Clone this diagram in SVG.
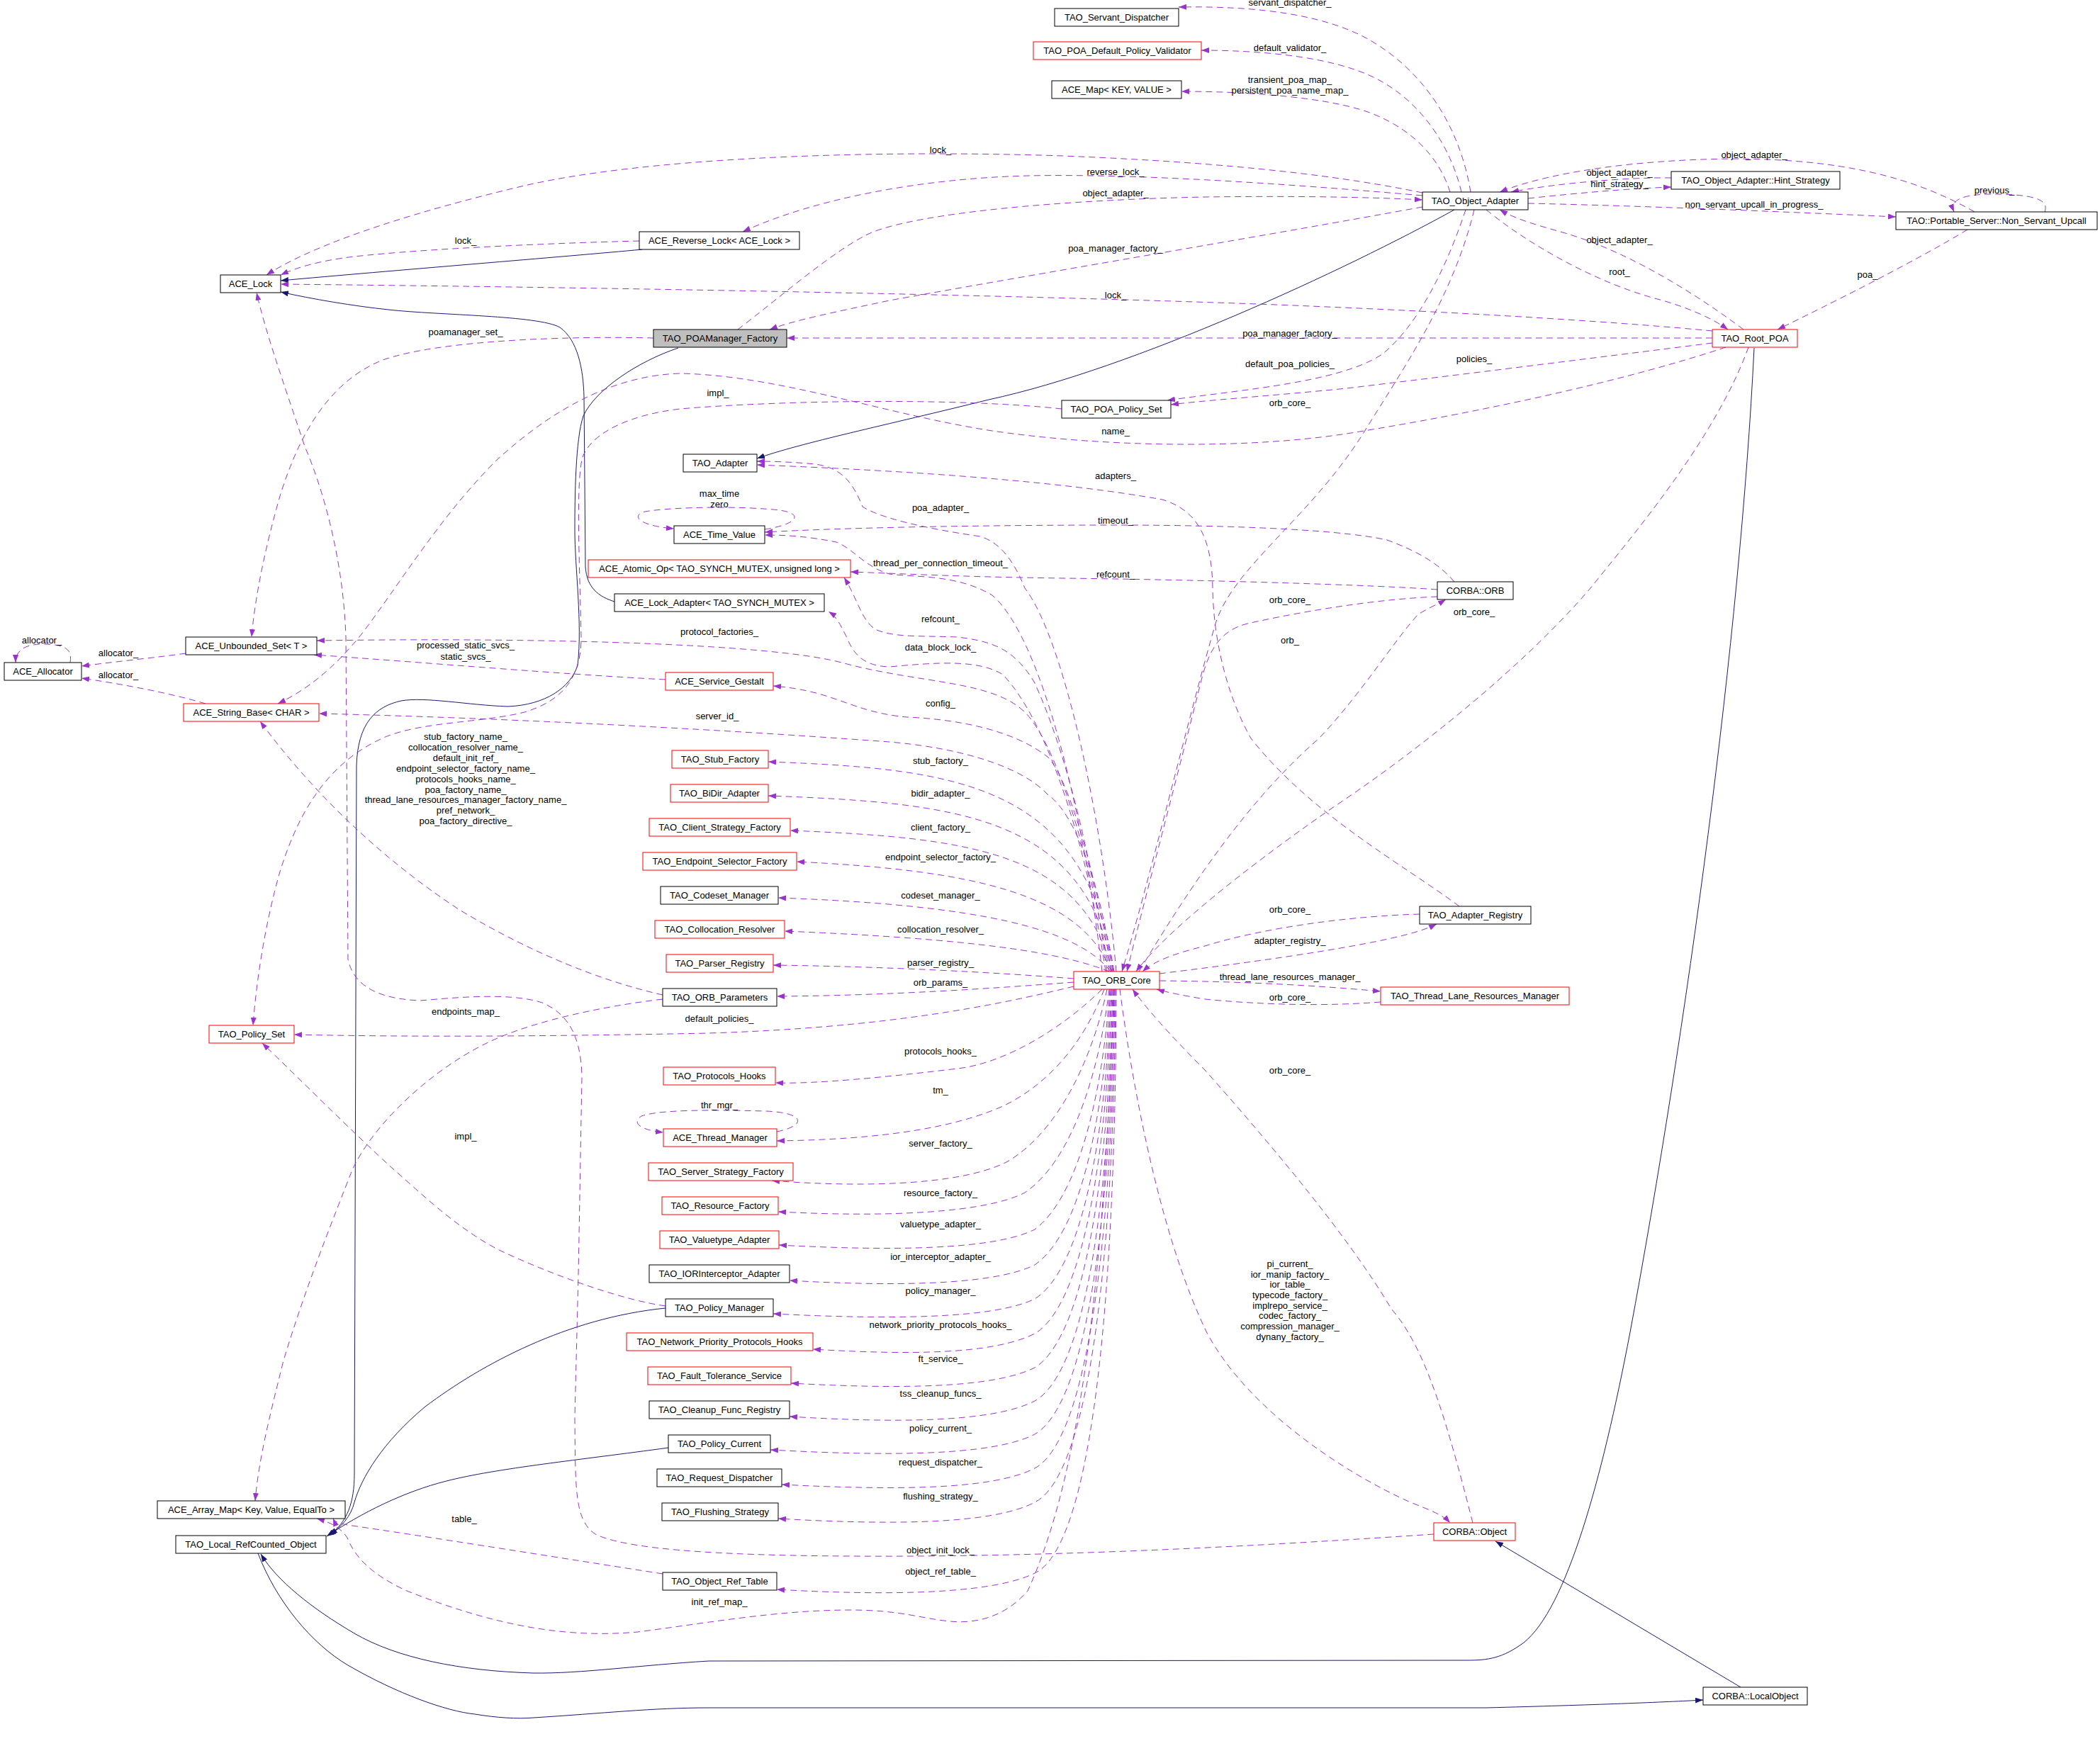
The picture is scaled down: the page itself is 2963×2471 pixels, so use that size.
<svg xmlns="http://www.w3.org/2000/svg" width="2963" height="2471" viewBox="0 0 2963 2471">
<style>
.n rect{fill:#fff;stroke:#000;stroke-width:1}
.n.r rect{stroke:#ff0000}
.n.m rect{fill:#bfbfbf}
text{font-family:"Liberation Sans",Arial,sans-serif;font-size:13px;fill:#000;text-anchor:middle}
.u{fill:none;stroke:#9a32cd;stroke-width:1;stroke-dasharray:9,6;marker-end:url(#ap)}
.i{fill:none;stroke:#191970;stroke-width:1;marker-end:url(#ab)}
</style>
<defs>
<marker id="ap" viewBox="0 0 11 8" refX="11" refY="4" markerWidth="11" markerHeight="8" markerUnits="userSpaceOnUse" orient="auto"><path d="M0,0L11,4L0,8z" fill="#9a32cd"/></marker>
<marker id="ab" viewBox="0 0 11 8" refX="11" refY="4" markerWidth="11" markerHeight="8" markerUnits="userSpaceOnUse" orient="auto"><path d="M0,0L11,4L0,8z" fill="#191970"/></marker>
</defs>
<rect x="0" y="0" width="2963" height="2471" fill="#fff"/>
<g id="connectors">
<path class="i" d="M906,352 C800,362 550,382 396,396"/>
<path class="i" d="M867,849 C845,842 828,830 826,800 L824,560 C823,520 815,480 790,462 C760,445 620,445 548,437 C500,432 440,422 396,412"/>
<path class="i" d="M957,491 C900,510 840,550 823,587 C812,620 811,700 811,748 C811,800 822,880 815,939 C805,970 770,995 716,997 C660,995 600,983 566,989 C530,997 505,1020 503,1080 L500,2080 C500,2120 490,2148 465,2166"/>
<path class="i" d="M939,1846 C800,1860 680,1925 600,1985 C540,2035 510,2085 500,2120 C495,2140 482,2155 463,2167"/>
<path class="i" d="M943,2043 C820,2060 700,2072 630,2090 C570,2105 510,2135 461,2168"/>
<path class="i" d="M2052,296 C1900,380 1600,520 1395,564 C1250,600 1130,625 1068,647"/>
<path class="i" d="M2475,491 C2455,900 2380,1450 2300,1880 C2260,2090 2210,2270 2150,2318 C2120,2340 2100,2343 2070,2343 L1000,2344 C900,2350 820,2362 752,2361 C650,2358 560,2340 500,2305 C440,2270 390,2230 368,2193"/>
<path class="i" d="M364,2192 C390,2260 440,2320 491,2350 C560,2390 630,2415 670,2419 C700,2424 730,2426 753,2424 C850,2418 920,2410 1000,2410 L2097,2410 C2250,2406 2350,2402 2403,2399"/>
<path class="i" d="M2456,2381 L2110,2175"/>

<path class="u" d="M902,340 C780,343 600,351 500,362 C450,368 420,377 396,388"/>
<path class="u" d="M2075,271 C2060,180 2010,100 1930,55 C1870,22 1780,8 1663,10"/>
<path class="u" d="M2062,271 C2045,200 2000,140 1940,110 C1880,80 1780,71 1695,71"/>
<path class="u" d="M2046,271 C2030,220 1990,180 1930,158 C1870,137 1760,129 1667,129"/>
<path class="u" d="M2007,272 C1900,250 1750,230 1500,220 C1200,210 900,225 740,262 C600,295 450,340 376,388"/>
<path class="u" d="M2007,276 C1800,258 1600,245 1450,248 C1300,252 1150,280 1048,327"/>
<path class="u" d="M1041,465 C1100,420 1180,350 1230,328 C1300,300 1500,282 1700,278 C1850,276 1950,279 2007,282"/>
<path class="u" d="M2007,292 C1800,330 1500,380 1255,424 C1180,440 1120,452 1086,465"/>
<path class="u" d="M2358,251 C2300,250 2200,258 2132,271"/>
<path class="u" d="M2156,280 C2230,272 2300,266 2358,264"/>
<path class="u" d="M2786,299 C2700,250 2600,225 2450,224 C2300,225 2180,245 2116,271"/>
<path class="u" d="M2156,287 C2300,290 2500,298 2675,306"/>
<path class="u" d="M2885,299 C2890,285 2880,274 2811,274 C2770,274 2750,282 2757,299"/>
<path class="u" d="M2776,324 C2700,370 2580,430 2508,465"/>
<path class="u" d="M2460,465 C2400,420 2300,355 2205,328 C2170,318 2140,310 2116,296"/>
<path class="u" d="M2097,296 C2150,340 2250,400 2346,424 C2390,437 2420,452 2438,465"/>
<path class="u" d="M2416,467 C2300,456 2100,442 1800,430 C1400,415 800,405 396,401"/>
<path class="u" d="M2416,477 L1110,477"/>
<path class="u" d="M2416,484 C2250,505 2050,530 1900,548 C1800,558 1700,565 1652,571"/>
<path class="u" d="M2068,296 C2040,380 2000,460 1950,500 C1890,540 1750,550 1647,565"/>
<path class="u" d="M2080,296 C2050,420 1980,520 1925,609 C1850,730 1740,800 1715,880 C1680,1000 1620,1250 1583,1371"/>
<path class="u" d="M2435,490 C2300,535 2100,580 1900,612 C1750,635 1550,630 1400,608 C1250,585 1100,530 960,527 C850,530 760,595 700,650 C620,730 560,830 510,895 C470,945 430,975 392,993"/>
<path class="u" d="M1498,577 C1350,561 1100,565 960,577 C890,585 835,610 822,645 C812,680 818,800 820,900 C820,960 790,990 740,1005 C680,1020 600,1018 546,1039 C460,1075 420,1150 395,1230 C375,1300 362,1380 357,1447"/>
<path class="u" d="M922,477 C800,474 620,480 540,508 C460,540 420,620 395,700 C375,770 360,840 355,899"/>
<path class="u" d="M2023,2165 C1800,2180 1500,2198 1200,2196 C1000,2195 880,2185 840,2165 C810,2145 812,2100 811,2000 L816,1800 L821,1520 C820,1460 800,1430 765,1415 C720,1400 640,1408 593,1412 C540,1410 500,1395 491,1354 L488,900 C485,800 460,700 430,630 C400,540 375,470 362,413"/>
<path class="u" d="M935,1410 C850,1420 760,1440 702,1465 C620,1500 530,1580 497,1651 C470,1720 430,1820 400,1920 C380,2000 365,2060 360,2118"/>
<path class="u" d="M939,1843 C880,1835 780,1800 702,1763 C640,1730 590,1680 555,1650 C500,1600 420,1520 370,1472"/>
<path class="u" d="M935,1404 C850,1385 750,1345 650,1285 C550,1220 450,1130 367,1018"/>
<path class="u" d="M262,922 C220,928 160,934 115,940"/>
<path class="u" d="M290,993 C240,978 170,965 115,957"/>
<path class="u" d="M99,935 C102,918 95,909 60,909 C35,909 22,918 22,935"/>
<path class="u" d="M939,959 C800,952 600,935 443,924"/>
<path class="u" d="M1565,1371 C1545,1250 1500,1060 1446,1005 C1400,960 1300,965 1191,936 C1100,910 800,899 447,904"/>
<path class="u" d="M1568,1371 C1550,1250 1510,1100 1478,1068 C1430,1030 1350,1015 1280,1012 C1200,1005 1180,975 1091,968"/>
<path class="u" d="M1570,1371 C1555,1260 1520,1150 1478,1121 C1440,1080 1350,1055 1255,1047 C1000,1028 700,1013 450,1007"/>
<path class="u" d="M1562,1371 C1540,1200 1500,1050 1459,962 C1430,915 1400,905 1351,899 C1300,897 1260,900 1235,888 C1215,875 1210,845 1191,815"/>
<path class="u" d="M1560,1371 C1535,1200 1480,1020 1415,952 C1380,930 1320,935 1255,941 C1220,940 1205,925 1195,900 C1185,880 1180,870 1169,863"/>
<path class="u" d="M2028,832 C1950,826 1700,818 1500,816 C1350,814 1260,809 1200,807"/>
<path class="u" d="M2052,821 C2030,795 2000,778 1957,762 C1880,745 1700,741 1574,741 C1400,741 1200,744 1079,751"/>
<path class="u" d="M1555,1371 C1530,1150 1470,900 1400,840 C1350,810 1290,815 1255,810 C1220,800 1205,775 1180,765 C1140,757 1110,755 1079,755"/>
<path class="u" d="M1079,747 C1125,740 1135,725 1100,720 C1050,714 950,715 910,722 C890,727 900,742 951,746"/>
<path class="u" d="M1575,1371 C1555,1150 1500,900 1446,830 C1430,790 1410,765 1383,757 C1300,745 1240,730 1217,715 C1205,685 1190,660 1150,655 C1120,652 1090,651 1068,651"/>
<path class="u" d="M2059,1279 C1980,1220 1850,1150 1765,1042 C1730,980 1712,900 1711,830 C1710,760 1690,720 1640,705 C1500,680 1300,665 1068,656"/>
<path class="u" d="M2028,842 C1950,845 1850,860 1760,880 C1720,890 1705,920 1695,960 C1660,1100 1620,1250 1590,1371"/>
<path class="u" d="M1607,1371 C1680,1250 1760,1130 1861,1042 C1920,980 1970,900 2001,867 C2015,858 2030,852 2040,846"/>
<path class="u" d="M2467,490 C2420,620 2300,760 2244,830 C2150,940 2000,1060 1880,1140 C1750,1230 1640,1320 1603,1371"/>
<path class="u" d="M2003,1290 C1900,1293 1780,1310 1700,1335 C1660,1345 1630,1355 1612,1371"/>
<path class="u" d="M1636,1374 C1750,1360 1900,1340 1980,1320 C2000,1315 2015,1310 2027,1304"/>
<path class="u" d="M1636,1384 C1750,1385 1850,1390 1948,1399"/>
<path class="u" d="M1948,1414 C1850,1422 1750,1415 1700,1410 C1670,1405 1645,1400 1632,1396"/>
<path class="u" d="M2078,2149 C2040,2000 2010,1900 1963,1847 C1900,1740 1780,1600 1700,1510 C1650,1460 1615,1420 1598,1396"/>
<path class="u" d="M1580,1396 C1600,1550 1640,1750 1702,1879 C1760,1990 1900,2080 1990,2120 C2015,2130 2035,2137 2046,2149"/>
<path class="u" d="M935,2221 C800,2200 600,2168 490,2152 C480,2150 472,2148 470,2143"/>
<path class="u" d="M1572,1396 C1560,1700 1540,2050 1450,2245 C1420,2280 1380,2292 1340,2288 C1300,2284 1270,2272 1200,2272 C1100,2272 1000,2290 900,2303 C800,2312 700,2295 574,2245 C520,2220 500,2195 490,2170 C480,2155 465,2148 447,2143"/>
<path class="u" d="M1575,1396 C1574,1800 1545,2180 1460,2220 C1400,2250 1250,2252 1096,2243"/>
<path class="u" d="M1096,1597 C1140,1588 1135,1570 1080,1568 C1000,1566 930,1566 905,1575 C890,1585 905,1595 936,1598"/>
<path class="u" d="M1572,1371 C1530,1105 1350,1085 1084,1075"/>
<path class="u" d="M1571,1371 C1530,1150 1350,1133 1084,1123"/>
<path class="u" d="M1569,1371 C1528,1200 1360,1182 1115,1172"/>
<path class="u" d="M1568,1371 C1525,1260 1370,1228 1124,1216"/>
<path class="u" d="M1567,1371 C1520,1310 1380,1277 1098,1267"/>
<path class="u" d="M1565,1371 C1500,1345 1380,1325 1107,1314"/>
<path class="u" d="M1515,1381 C1400,1372 1250,1364 1091,1362"/>
<path class="u" d="M1515,1386 C1400,1395 1250,1405 1096,1406"/>
<path class="u" d="M1515,1392 C1400,1420 1250,1450 1000,1458 C800,1462 600,1464 415,1460"/>
<path class="u" d="M1555,1396 C1500,1450 1420,1500 1351,1508 C1250,1520 1150,1530 1094,1528"/>
<path class="u" d="M1558,1396 C1530,1470 1480,1530 1415,1561 C1350,1590 1250,1608 1096,1610"/>
<path class="u" d="M1562,1396 C1540,1500 1490,1600 1420,1640 C1350,1675 1200,1675 1089,1666"/>
<path class="u" d="M1565,1396 C1550,1520 1510,1640 1446,1683 C1390,1712 1250,1718 1098,1710"/>
<path class="u" d="M1566,1396 C1555,1550 1520,1690 1460,1735 C1400,1765 1250,1765 1099,1757"/>
<path class="u" d="M1567,1396 C1557,1580 1525,1740 1460,1785 C1400,1815 1250,1815 1114,1807"/>
<path class="u" d="M1568,1396 C1560,1600 1528,1790 1460,1833 C1400,1862 1250,1862 1091,1854"/>
<path class="u" d="M1569,1396 C1562,1620 1530,1840 1460,1882 C1400,1912 1280,1912 1147,1904"/>
<path class="u" d="M1570,1396 C1564,1650 1532,1885 1460,1930 C1400,1960 1260,1960 1116,1952"/>
<path class="u" d="M1571,1396 C1566,1680 1534,1935 1460,1977 C1400,2008 1260,2008 1114,1999"/>
<path class="u" d="M1572,1396 C1568,1700 1536,1980 1460,2024 C1400,2055 1250,2055 1087,2046"/>
<path class="u" d="M1573,1396 C1570,1720 1538,2030 1460,2072 C1400,2103 1260,2103 1103,2095"/>
<path class="u" d="M1574,1396 C1572,1750 1540,2080 1460,2120 C1400,2152 1250,2152 1098,2143"/>
</g>
<g id="edge-labels">
<text x="1820" y="8">servant_dispatcher_</text>
<text x="1820" y="71.5">default_validator_</text>
<text x="1820" y="116.5">transient_poa_map_</text>
<text x="1820" y="131.5">persistent_poa_name_map_</text>
<text x="1327" y="215.5">lock_</text>
<text x="1574" y="246.5">reverse_lock_</text>
<text x="1574" y="276.5">object_adapter_</text>
<text x="2285" y="248">object_adapter_</text>
<text x="2285" y="263.5">hint_strategy_</text>
<text x="2475" y="222.5">object_adapter_</text>
<text x="2814" y="272.5">previous_</text>
<text x="2475" y="292.5">non_servant_upcall_in_progress_</text>
<text x="2285" y="342.5">object_adapter_</text>
<text x="2285" y="387.5">root_</text>
<text x="2635" y="391.5">poa_</text>
<text x="657" y="343.5">lock_</text>
<text x="1574" y="354.5">poa_manager_factory_</text>
<text x="1574" y="420.5">lock_</text>
<text x="657" y="472.5">poamanager_set_</text>
<text x="1820" y="474.5">poa_manager_factory_</text>
<text x="2080" y="510.5">policies_</text>
<text x="1820" y="517.5">default_poa_policies_</text>
<text x="1013" y="558.5">impl_</text>
<text x="1820" y="572.5">orb_core_</text>
<text x="1574" y="612.5">name_</text>
<text x="1574" y="675.5">adapters_</text>
<text x="1015" y="700.5">max_time</text>
<text x="1015" y="715.5">zero</text>
<text x="1327" y="720.5">poa_adapter_</text>
<text x="1574" y="738.5">timeout_</text>
<text x="1327" y="798.5">thread_per_connection_timeout_</text>
<text x="1574" y="814.5">refcount_</text>
<text x="1820" y="850.5">orb_core_</text>
<text x="2080" y="867.5">orb_core_</text>
<text x="1327" y="877.5">refcount_</text>
<text x="1015" y="895.5">protocol_factories_</text>
<text x="1820" y="907.5">orb_</text>
<text x="59" y="907.5">allocator_</text>
<text x="657" y="914.5">processed_static_svcs_</text>
<text x="1327" y="917.5">data_block_lock_</text>
<text x="167" y="925.5">allocator_</text>
<text x="657" y="930.5">static_svcs_</text>
<text x="167" y="956.5">allocator_</text>
<text x="1327" y="996.5">config_</text>
<text x="1012" y="1014.5">server_id_</text>
<text x="657" y="1043.5">stub_factory_name_</text>
<text x="657" y="1058.5">collocation_resolver_name_</text>
<text x="657" y="1073.5">default_init_ref_</text>
<text x="657" y="1088.5">endpoint_selector_factory_name_</text>
<text x="657" y="1103.5">protocols_hooks_name_</text>
<text x="657" y="1118.5">poa_factory_name_</text>
<text x="657" y="1132.5">thread_lane_resources_manager_factory_name_</text>
<text x="657" y="1147.5">pref_network_</text>
<text x="657" y="1162.5">poa_factory_directive_</text>
<text x="1327" y="1078">stub_factory_</text>
<text x="1327" y="1124">bidir_adapter_</text>
<text x="1327" y="1171.5">client_factory_</text>
<text x="1327" y="1214">endpoint_selector_factory_</text>
<text x="1327" y="1267.5">codeset_manager_</text>
<text x="1820" y="1287.5">orb_core_</text>
<text x="1327" y="1315.5">collocation_resolver_</text>
<text x="1820" y="1331.5">adapter_registry_</text>
<text x="1327" y="1362.5">parser_registry_</text>
<text x="1820" y="1382.5">thread_lane_resources_manager_</text>
<text x="1327" y="1390.5">orb_params_</text>
<text x="1820" y="1411.5">orb_core_</text>
<text x="657" y="1431.5">endpoints_map_</text>
<text x="1015" y="1441.5">default_policies_</text>
<text x="1327" y="1487.5">protocols_hooks_</text>
<text x="1820" y="1514.5">orb_core_</text>
<text x="1327" y="1542.5">tm_</text>
<text x="1015" y="1563.5">thr_mgr_</text>
<text x="657" y="1607.5">impl_</text>
<text x="1327" y="1618">server_factory_</text>
<text x="1327" y="1687.5">resource_factory_</text>
<text x="1327" y="1731.5">valuetype_adapter_</text>
<text x="1327" y="1777.5">ior_interceptor_adapter_</text>
<text x="1820" y="1787.5">pi_current_</text>
<text x="1820" y="1802.5">ior_manip_factory_</text>
<text x="1820" y="1816.5">ior_table_</text>
<text x="1820" y="1831.5">typecode_factory_</text>
<text x="1820" y="1846.5">implrepo_service_</text>
<text x="1820" y="1860.5">codec_factory_</text>
<text x="1820" y="1875.5">compression_manager_</text>
<text x="1820" y="1890.5">dynany_factory_</text>
<text x="1327" y="1826">policy_manager_</text>
<text x="1327" y="1873.5">network_priority_protocols_hooks_</text>
<text x="1327" y="1921.5">ft_service_</text>
<text x="1327" y="1971">tss_cleanup_funcs_</text>
<text x="1327" y="2019.5">policy_current_</text>
<text x="1327" y="2068">request_dispatcher_</text>
<text x="1327" y="2116">flushing_strategy_</text>
<text x="655" y="2147.5">table_</text>
<text x="1327" y="2191.5">object_init_lock_</text>
<text x="1327" y="2222">object_ref_table_</text>
<text x="1015" y="2264.5">init_ref_map_</text>
</g>
<g id="n_servant_dispatcher" class="n"><rect x="1488" y="12" width="175" height="25"/><text x="1575.5" y="29">TAO_Servant_Dispatcher</text></g>
<g id="n_default_policy_validator" class="n r"><rect x="1458" y="59" width="237" height="25"/><text x="1576.5" y="76">TAO_POA_Default_Policy_Validator</text></g>
<g id="n_ace_map" class="n"><rect x="1484" y="114" width="183" height="25"/><text x="1575.5" y="131">ACE_Map&lt; KEY, VALUE &gt;</text></g>
<g id="n_object_adapter" class="n"><rect x="2007" y="271" width="149" height="25"/><text x="2081.5" y="288">TAO_Object_Adapter</text></g>
<g id="n_hint_strategy" class="n"><rect x="2358" y="242" width="238" height="25"/><text x="2477" y="259">TAO_Object_Adapter::Hint_Strategy</text></g>
<g id="n_non_servant_upcall" class="n"><rect x="2675" y="299" width="284" height="25"/><text x="2817" y="316">TAO::Portable_Server::Non_Servant_Upcall</text></g>
<g id="n_reverse_lock" class="n"><rect x="902" y="327" width="226" height="25"/><text x="1015" y="344">ACE_Reverse_Lock&lt; ACE_Lock &gt;</text></g>
<g id="n_ace_lock" class="n"><rect x="311" y="388" width="85" height="25"/><text x="353.5" y="405">ACE_Lock</text></g>
<g id="n_poamanager_factory" class="n m"><rect x="922" y="465" width="188" height="25"/><text x="1016" y="482">TAO_POAManager_Factory</text></g>
<g id="n_root_poa" class="n r"><rect x="2416" y="465" width="120" height="25"/><text x="2476" y="482">TAO_Root_POA</text></g>
<g id="n_poa_policy_set" class="n"><rect x="1498" y="565" width="154" height="25"/><text x="1575" y="582">TAO_POA_Policy_Set</text></g>
<g id="n_adapter" class="n"><rect x="964" y="641" width="104" height="25"/><text x="1016" y="658">TAO_Adapter</text></g>
<g id="n_time_value" class="n"><rect x="951" y="742" width="128" height="25"/><text x="1015" y="759">ACE_Time_Value</text></g>
<g id="n_atomic_op" class="n r"><rect x="830" y="790" width="370" height="25"/><text x="1015" y="807">ACE_Atomic_Op&lt; TAO_SYNCH_MUTEX, unsigned long &gt;</text></g>
<g id="n_corba_orb" class="n"><rect x="2028" y="821" width="107" height="25"/><text x="2081.5" y="838">CORBA::ORB</text></g>
<g id="n_lock_adapter" class="n"><rect x="867" y="838" width="296" height="25"/><text x="1015" y="855">ACE_Lock_Adapter&lt; TAO_SYNCH_MUTEX &gt;</text></g>
<g id="n_unbounded_set" class="n"><rect x="262" y="899" width="185" height="25"/><text x="354.5" y="916">ACE_Unbounded_Set&lt; T &gt;</text></g>
<g id="n_allocator" class="n"><rect x="6" y="935" width="109" height="25"/><text x="60.5" y="952">ACE_Allocator</text></g>
<g id="n_service_gestalt" class="n r"><rect x="939" y="949" width="152" height="25"/><text x="1015" y="966">ACE_Service_Gestalt</text></g>
<g id="n_string_base" class="n r"><rect x="259" y="993" width="191" height="25"/><text x="354.5" y="1010">ACE_String_Base&lt; CHAR &gt;</text></g>
<g id="n_stub_factory" class="n r"><rect x="948" y="1059" width="136" height="25"/><text x="1016" y="1076">TAO_Stub_Factory</text></g>
<g id="n_bidir_adapter" class="n r"><rect x="946" y="1107" width="138" height="25"/><text x="1015" y="1124">TAO_BiDir_Adapter</text></g>
<g id="n_client_strategy_factory" class="n r"><rect x="916" y="1155" width="199" height="25"/><text x="1015.5" y="1172">TAO_Client_Strategy_Factory</text></g>
<g id="n_endpoint_selector_factory" class="n r"><rect x="907" y="1203" width="217" height="25"/><text x="1015.5" y="1220">TAO_Endpoint_Selector_Factory</text></g>
<g id="n_codeset_manager" class="n"><rect x="932" y="1251" width="166" height="25"/><text x="1015" y="1268">TAO_Codeset_Manager</text></g>
<g id="n_collocation_resolver" class="n r"><rect x="924" y="1299" width="183" height="25"/><text x="1015.5" y="1316">TAO_Collocation_Resolver</text></g>
<g id="n_parser_registry" class="n r"><rect x="940" y="1347" width="151" height="25"/><text x="1015.5" y="1364">TAO_Parser_Registry</text></g>
<g id="n_orb_parameters" class="n"><rect x="935" y="1395" width="161" height="25"/><text x="1015.5" y="1412">TAO_ORB_Parameters</text></g>
<g id="n_orb_core" class="n r"><rect x="1515" y="1371" width="121" height="25"/><text x="1575.5" y="1388">TAO_ORB_Core</text></g>
<g id="n_adapter_registry" class="n"><rect x="2003" y="1279" width="157" height="25"/><text x="2081.5" y="1296">TAO_Adapter_Registry</text></g>
<g id="n_thread_lane_resources_manager" class="n r"><rect x="1948" y="1393" width="266" height="25"/><text x="2081" y="1410">TAO_Thread_Lane_Resources_Manager</text></g>
<g id="n_policy_set" class="n r"><rect x="295" y="1447" width="120" height="25"/><text x="355" y="1464">TAO_Policy_Set</text></g>
<g id="n_protocols_hooks" class="n r"><rect x="936" y="1506" width="158" height="25"/><text x="1015" y="1523">TAO_Protocols_Hooks</text></g>
<g id="n_thread_manager" class="n r"><rect x="936" y="1593" width="160" height="25"/><text x="1016" y="1610">ACE_Thread_Manager</text></g>
<g id="n_server_strategy_factory" class="n r"><rect x="915" y="1641" width="204" height="25"/><text x="1017" y="1658">TAO_Server_Strategy_Factory</text></g>
<g id="n_resource_factory" class="n r"><rect x="934" y="1689" width="164" height="25"/><text x="1016" y="1706">TAO_Resource_Factory</text></g>
<g id="n_valuetype_adapter" class="n r"><rect x="931" y="1737" width="168" height="25"/><text x="1015" y="1754">TAO_Valuetype_Adapter</text></g>
<g id="n_iorinterceptor_adapter" class="n"><rect x="916" y="1785" width="198" height="25"/><text x="1015" y="1802">TAO_IORInterceptor_Adapter</text></g>
<g id="n_policy_manager" class="n"><rect x="939" y="1833" width="152" height="25"/><text x="1015" y="1850">TAO_Policy_Manager</text></g>
<g id="n_network_priority_protocols_hooks" class="n r"><rect x="884" y="1881" width="263" height="25"/><text x="1015.5" y="1898">TAO_Network_Priority_Protocols_Hooks</text></g>
<g id="n_fault_tolerance_service" class="n r"><rect x="914" y="1929" width="202" height="25"/><text x="1015" y="1946">TAO_Fault_Tolerance_Service</text></g>
<g id="n_cleanup_func_registry" class="n"><rect x="916" y="1977" width="198" height="25"/><text x="1015" y="1994">TAO_Cleanup_Func_Registry</text></g>
<g id="n_policy_current" class="n"><rect x="943" y="2025" width="144" height="25"/><text x="1015" y="2042">TAO_Policy_Current</text></g>
<g id="n_request_dispatcher" class="n"><rect x="927" y="2073" width="176" height="25"/><text x="1015" y="2090">TAO_Request_Dispatcher</text></g>
<g id="n_flushing_strategy" class="n"><rect x="934" y="2121" width="164" height="25"/><text x="1016" y="2138">TAO_Flushing_Strategy</text></g>
<g id="n_object_ref_table" class="n"><rect x="935" y="2219" width="161" height="25"/><text x="1015.5" y="2236">TAO_Object_Ref_Table</text></g>
<g id="n_array_map" class="n"><rect x="222" y="2118" width="265" height="25"/><text x="354.5" y="2135">ACE_Array_Map&lt; Key, Value, EqualTo &gt;</text></g>
<g id="n_local_refcounted_object" class="n"><rect x="248" y="2167" width="212" height="25"/><text x="354" y="2184">TAO_Local_RefCounted_Object</text></g>
<g id="n_corba_object" class="n r"><rect x="2023" y="2149" width="115" height="25"/><text x="2080.5" y="2166">CORBA::Object</text></g>
<g id="n_corba_localobject" class="n"><rect x="2403" y="2381" width="147" height="25"/><text x="2476.5" y="2398">CORBA::LocalObject</text></g>
</svg>
